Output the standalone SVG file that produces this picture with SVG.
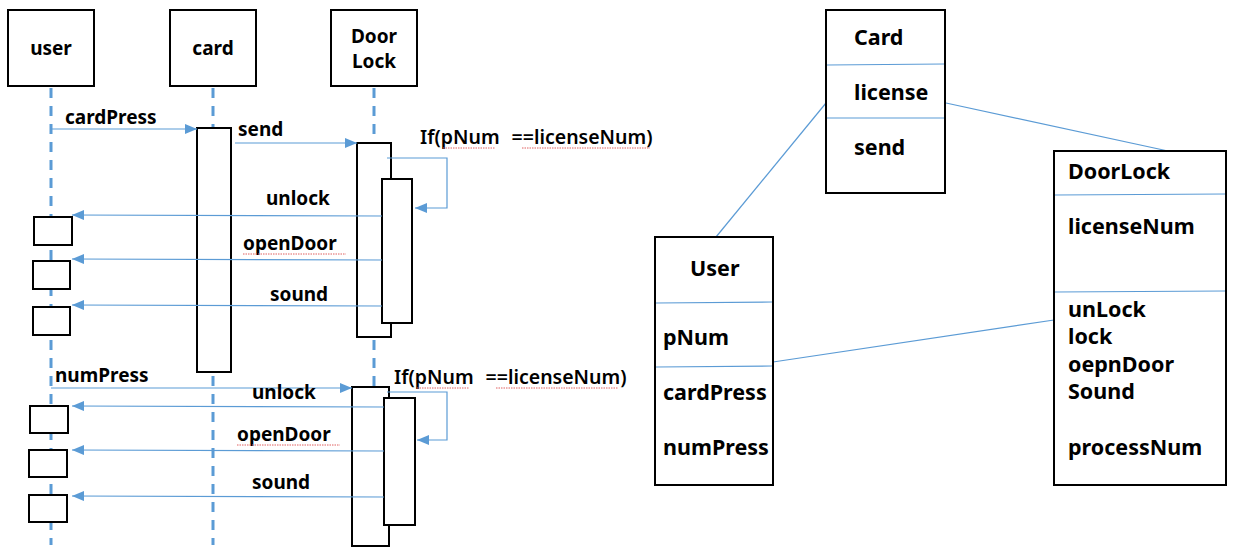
<svg xmlns="http://www.w3.org/2000/svg" width="1237" height="556" viewBox="0 0 1237 556">
<style>
.box{fill:#fff;stroke:#000;stroke-width:2}
.life{stroke:#5B9BD5;stroke-width:3;stroke-dasharray:10 8;fill:none}
.msg{stroke:#5B9BD5;stroke-width:1.2;fill:none}
.div{stroke:#5B9BD5;stroke-width:1.2}
.t{font-family:"Noto Sans","Liberation Sans",sans-serif;font-weight:bold;font-size:19px;fill:#000}
.k{font-size:21.5px}
.c{text-anchor:middle}
.n{font-weight:600;font-size:19.5px}
.sq{stroke:#e06060;stroke-width:1;fill:none;stroke-dasharray:1.5 1}
</style>
<defs>
<marker id="ah" markerWidth="12" markerHeight="10" refX="12" refY="5" orient="auto" markerUnits="userSpaceOnUse">
<path d="M0,0 L12,5 L0,10 Z" fill="#5B9BD5"/>
</marker>
</defs>
<rect width="1237" height="556" fill="#fff"/>
<g id="lifelines">
<line class="life" x1="51" y1="88" x2="51" y2="545"/>
<line class="life" x1="213" y1="88" x2="213" y2="545"/>
<line class="life" x1="374" y1="88" x2="374" y2="545"/>
</g>
<g id="user-head"><rect class="box" x="8" y="10" width="86" height="76"/><text class="t c" x="51" y="55">user</text></g>
<g id="card-head"><rect class="box" x="170" y="10" width="86" height="76"/><text class="t c" x="213" y="55">card</text></g>
<g id="doorlock-head"><rect class="box" x="331" y="10" width="86" height="76"/><text class="t c" x="374" y="43">Door</text><text class="t c" x="374" y="68">Lock</text></g>
<g id="activations">
<rect class="box" x="197" y="128" width="34" height="244"/>
<rect class="box" x="357" y="143" width="34" height="194"/>
<rect class="box" x="382" y="179" width="30" height="144"/>
<rect class="box" x="352" y="387" width="37" height="159"/>
<rect class="box" x="384" y="398" width="31" height="127"/>
</g>
<g id="user-returns">
<rect class="box" x="34" y="217" width="38" height="28"/>
<rect class="box" x="33" y="261" width="37" height="28"/>
<rect class="box" x="33" y="307" width="37" height="28"/>
<rect class="box" x="30" y="406" width="38" height="27"/>
<rect class="box" x="29" y="450" width="38" height="27"/>
<rect class="box" x="29" y="495" width="38" height="27"/>
</g>
<g id="connectors">
<line class="msg" x1="51" y1="129" x2="197" y2="129" marker-end="url(#ah)"/>
<line class="msg" x1="235" y1="143" x2="357" y2="143" marker-end="url(#ah)"/>
<polyline class="msg" points="387,158 447,158 447,208 415,208" marker-end="url(#ah)"/>
<line class="msg" x1="382" y1="216" x2="72" y2="215" marker-end="url(#ah)"/>
<line class="msg" x1="382" y1="260" x2="72" y2="259" marker-end="url(#ah)"/>
<line class="msg" x1="382" y1="306" x2="72" y2="305" marker-end="url(#ah)"/>
<line class="msg" x1="51" y1="388" x2="352" y2="388" marker-end="url(#ah)"/>
<polyline class="msg" points="387,392 447,392 447,440 417,440" marker-end="url(#ah)"/>
<line class="msg" x1="384" y1="407" x2="72" y2="406" marker-end="url(#ah)"/>
<line class="msg" x1="384" y1="451" x2="72" y2="450" marker-end="url(#ah)"/>
<line class="msg" x1="384" y1="497" x2="72" y2="496" marker-end="url(#ah)"/>
<line class="msg" x1="716" y1="237" x2="826" y2="103"/>
<line class="msg" x1="946" y1="103" x2="1168" y2="151"/>
<line class="msg" x1="773" y1="362" x2="1054" y2="320"/>
</g>
<g id="labels">
<text class="t" x="65" y="124">cardPress</text>
<text class="t" x="238" y="136">send</text>
<text class="t n" x="420" y="144">If(pNum<tspan dx="12">==licenseNum)</tspan></text>
<path class="sq" d="M443,148 h52 M522,148 h128"/>
<text class="t" x="266" y="205">unlock</text>
<text class="t" x="243" y="250">openDoor</text>
<path class="sq" d="M243,254 h103"/>
<text class="t" x="270" y="301">sound</text>
<text class="t" x="55" y="382">numPress</text>
<text class="t n" x="394" y="384">If(pNum<tspan dx="12">==licenseNum)</tspan></text>
<path class="sq" d="M417,388 h52 M496,388 h122"/>
<text class="t" x="252" y="399">unlock</text>
<text class="t" x="237" y="441">openDoor</text>
<path class="sq" d="M237,445 h103"/>
<text class="t" x="252" y="489">sound</text>
</g>
<g id="class-card">
<rect class="box" x="826" y="10" width="119" height="183"/>
<line class="div" x1="827" y1="65" x2="944" y2="64"/>
<line class="div" x1="827" y1="118" x2="944" y2="118"/>
<text class="t k" x="854" y="45">Card</text>
<text class="t k" x="854" y="100">license</text>
<text class="t k" x="854" y="155">send</text>
</g>
<g id="class-doorlock">
<rect class="box" x="1054" y="151" width="172" height="334"/>
<line class="div" x1="1055" y1="195" x2="1225" y2="194"/>
<line class="div" x1="1055" y1="292" x2="1225" y2="291"/>
<text class="t k" x="1068" y="179">DoorLock</text>
<text class="t k" x="1068" y="234">licenseNum</text>
<text class="t k" x="1068" y="317">unLock</text>
<text class="t k" x="1068" y="344">lock</text>
<text class="t k" x="1068" y="372">oepnDoor</text>
<text class="t k" x="1068" y="399">Sound</text>
<text class="t k" x="1068" y="455">processNum</text>
</g>
<g id="class-user">
<rect class="box" x="655" y="237" width="118" height="248"/>
<line class="div" x1="656" y1="303" x2="772" y2="302"/>
<line class="div" x1="656" y1="367" x2="772" y2="366"/>
<text class="t k" x="690" y="276">User</text>
<text class="t k" x="663" y="345">pNum</text>
<text class="t k" x="663" y="400">cardPress</text>
<text class="t k" x="663" y="455">numPress</text>
</g>
</svg>
